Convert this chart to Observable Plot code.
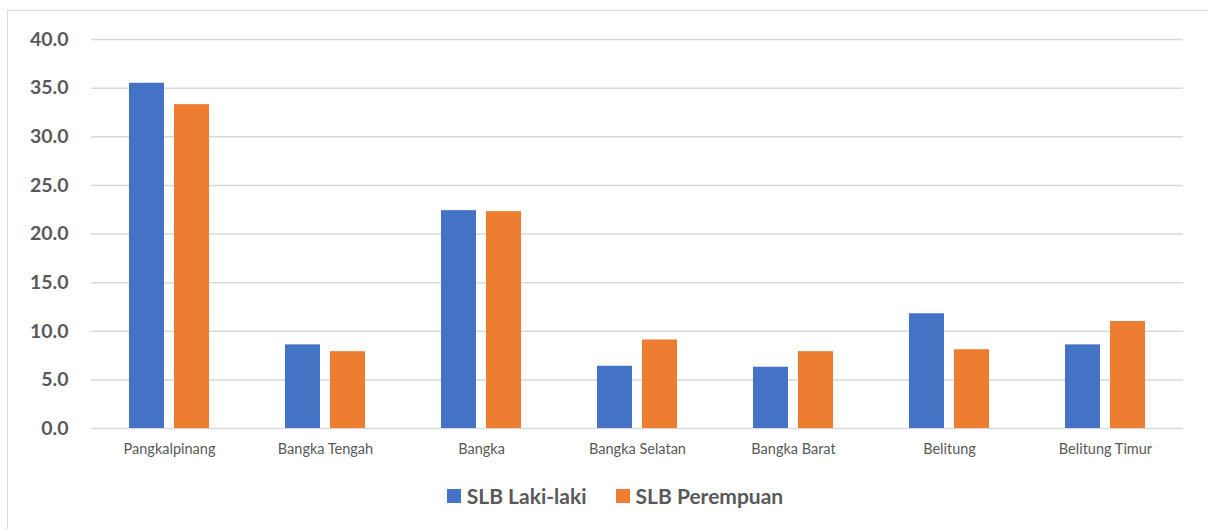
<!DOCTYPE html>
<html>
<head>
<meta charset="utf-8">
<script src="https://cdn.jsdelivr.net/npm/d3@7"></script>
<script src="https://cdn.jsdelivr.net/npm/@observablehq/plot@0.6"></script>
<style>
  html, body { margin: 0; padding: 0; background: #fff; }
  body { width: 1208px; height: 529px; position: relative; overflow: hidden; font-family: Lato, "Open Sans", sans-serif; }
  #frame { position: absolute; left: 7px; top: 10px; width: 1210px; height: 530px; border: 1px solid #d9d9d9; box-sizing: border-box; }
  #chart { position: absolute; left: 0; top: 0; }
  #legend { position: absolute; left: 0; top: 483px; width: 1208px; display: flex; justify-content: center; gap: 29px; padding-left: 22px; box-sizing: border-box; font-weight: bold; font-size: 21px; color: #595959; }
  #legend .item { display: flex; align-items: center; }
  #legend .sw { width: 14px; height: 14px; margin-right: 6px; }
</style>
</head>
<body>
<div id="frame"></div>
<div id="chart"></div>
<div id="legend"></div>
<script>
const categories = ["Pangkalpinang", "Bangka Tengah", "Bangka", "Bangka Selatan", "Bangka Barat", "Belitung", "Belitung Timur"];
const series = ["SLB Laki-laki", "SLB Perempuan"];
const lakiLaki = [35.5, 8.6, 22.4, 6.4, 6.3, 11.8, 8.6];
const perempuan = [33.3, 7.9, 22.3, 9.1, 7.9, 8.1, 11.0];
const colors = ["#4472C4", "#ED7D31"];
const yTicks = [0, 5, 10, 15, 20, 25, 30, 35, 40];

const data = [];
categories.forEach((c, i) => {
  data.push({category: c, series: series[0], value: lakiLaki[i]});
  data.push({category: c, series: series[1], value: perempuan[i]});
});

const chart = Plot.plot({
  width: 1208,
  height: 470,
  marginLeft: 90,
  marginRight: 25,
  marginTop: 39,
  marginBottom: 42,
  style: {fontFamily: "Lato, 'Open Sans', sans-serif", background: "transparent"},
  fx: {domain: categories, padding: 0, label: null},
  x: {domain: series, paddingInner: 0.222, paddingOuter: 0.844, axis: null},
  y: {domain: [0, 40], label: null},
  color: {domain: series, range: colors},
  marks: [
    Plot.gridY(yTicks, {stroke: "#d9d9d9", strokeOpacity: 1, strokeWidth: 1.5}),
    Plot.axisY(yTicks, {tickSize: 0, tickPadding: 23, fontSize: 19.5, fontWeight: "bold", color: "#595959", tickFormat: d => d.toFixed(1), label: null}),
    Plot.axisFx({anchor: "bottom", tickSize: 0, tickPadding: 15, fontSize: 14.5, color: "#595959", label: null}),
    Plot.barY(data, {fx: "category", x: "series", y: "value", fill: "series"})
  ]
});
document.getElementById("chart").appendChild(chart);

const legend = document.getElementById("legend");
series.forEach((s, i) => {
  const item = document.createElement("div");
  item.className = "item";
  const sw = document.createElement("div");
  sw.className = "sw";
  sw.style.background = colors[i];
  const t = document.createElement("span");
  t.textContent = s;
  item.appendChild(sw);
  item.appendChild(t);
  legend.appendChild(item);
});
</script>
</body>
</html>
